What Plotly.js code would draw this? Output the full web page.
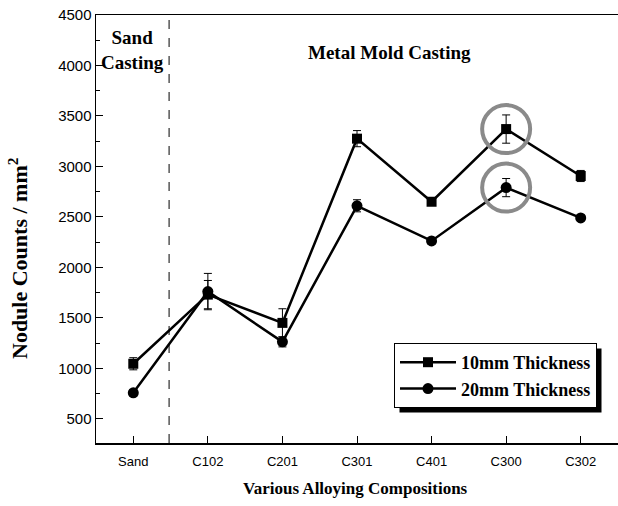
<!DOCTYPE html>
<html>
<head>
<meta charset="utf-8">
<script src="https://cdn.plot.ly/plotly-3.0.1.min.js"></script>
<style>html,body{margin:0;padding:0;background:#fff;}#chart{width:618px;height:506px;}</style>
</head>
<body>
<div id="chart"></div>
<script>
const categories = ["Sand", "C102", "C201", "C301", "C401", "C300", "C302"];
const thick10 = [1045, 1730, 1450, 3275, 2650, 3370, 2905];
const thick10Err = [60, 140, 140, 80, 30, 140, 55];
const thick20 = [757, 1760, 1262, 2610, 2262, 2790, 2490];
const thick20Err = [30, 180, 50, 60, 30, 90, 25];
const yTicks = [500, 1000, 1500, 2000, 2500, 3000, 3500, 4000, 4500];
const seriesNames = ["10mm Thickness", "20mm Thickness"];
const highlighted = "C300";

const serif = "Liberation Serif, Times New Roman, serif";
const sans = "Liberation Sans, Arial, sans-serif";
const xIdx = categories.map((c, i) => i);

const traces = [
  {
    x: xIdx, y: thick10, name: seriesNames[0], type: "scatter", mode: "lines+markers",
    line: {color: "#000", width: 2.5},
    marker: {symbol: "square", size: 10, color: "#000"},
    error_y: {type: "data", array: thick10Err, visible: true, color: "#000", thickness: 1, width: 4}
  },
  {
    x: xIdx, y: thick20, name: seriesNames[1], type: "scatter", mode: "lines+markers",
    line: {color: "#000", width: 2.5},
    marker: {symbol: "circle", size: 11, color: "#000"},
    error_y: {type: "data", array: thick20Err, visible: true, color: "#000", thickness: 1, width: 4}
  }
];

const hi = categories.indexOf(highlighted);
const shapes = [
  {type: "line", xref: "x", yref: "paper", x0: 0.48, x1: 0.48, y0: 0, y1: 1,
   line: {color: "#000", width: 1, dash: "dash"}},
  {type: "rect", xref: "paper", yref: "paper", x0: 0.580, x1: 0.973, y0: 0.09, y1: 0.222,
   fillcolor: "#000", line: {width: 0}, layer: "below"},
  {type: "circle", xref: "x", yref: "y", xsizemode: "pixel", ysizemode: "pixel",
   xanchor: hi, yanchor: thick10[hi], x0: -24, x1: 24, y0: -24, y1: 24,
   line: {color: "#8a8a8a", width: 4}},
  {type: "circle", xref: "x", yref: "y", xsizemode: "pixel", ysizemode: "pixel",
   xanchor: hi, yanchor: thick20[hi], x0: -24, x1: 24, y0: -24, y1: 24,
   line: {color: "#8a8a8a", width: 4}}
];

const layout = {
  width: 618, height: 506,
  margin: {l: 96, r: 0, t: 15, b: 63},
  paper_bgcolor: "#fff", plot_bgcolor: "#fff",
  showlegend: true,
  legend: {
    x: (394 - 96) / 522, y: (443 - 343) / 428, xanchor: "left", yanchor: "top",
    bgcolor: "#fff", bordercolor: "#000", borderwidth: 1,
    font: {family: serif, size: 18, color: "#000", weight: "bold"},
    tracegroupgap: 0, itemwidth: 56
  },
  xaxis: {
    range: [-0.5, 6.5], tickmode: "array", tickvals: xIdx, ticktext: categories,
    ticks: "inside", ticklen: 7, tickcolor: "#000", tickwidth: 1,
    showline: true, linecolor: "#000", linewidth: 1.5, mirror: true,
    showgrid: false, zeroline: false, ticklabelstandoff: 6,
    tickfont: {family: sans, size: 13, color: "#000"}
  },
  yaxis: {
    range: [260, 4500], tickmode: "array", tickvals: yTicks,
    ticks: "inside", ticklen: 7, tickcolor: "#000", tickwidth: 1,
    minor: {dtick: 250, tick0: 250, ticks: "inside", ticklen: 4, tickcolor: "#000", showgrid: false},
    showline: true, linecolor: "#000", linewidth: 1.5,
    showgrid: false, zeroline: false,
    tickfont: {family: sans, size: 15, color: "#000"}
  },
  shapes: shapes,
  annotations: [
    {text: "Sand<br>Casting", xref: "paper", yref: "paper", x: (132 - 96) / 522, y: (443 - 50) / 428,
     xanchor: "center", yanchor: "middle", showarrow: false, align: "center",
     font: {family: serif, size: 19, color: "#000", weight: "bold"}},
    {text: "Metal Mold Casting", xref: "paper", yref: "paper", x: (389 - 96) / 522, y: (443 - 53) / 428,
     xanchor: "center", yanchor: "middle", showarrow: false,
     font: {family: serif, size: 19, color: "#000", weight: "bold"}},
    {text: "Nodule Counts / mm<sup>2</sup>", xref: "paper", yref: "paper", x: (18 - 96) / 522, y: (443 - 258) / 428,
     xanchor: "center", yanchor: "middle", showarrow: false, textangle: -90,
     font: {family: serif, size: 22, color: "#000", weight: "bold"}},
    {text: "Various Alloying Compositions", xref: "paper", yref: "paper", x: (355 - 96) / 522, y: (443 - 488) / 428,
     xanchor: "center", yanchor: "middle", showarrow: false,
     font: {family: serif, size: 17, color: "#000", weight: "bold"}}
  ]
};

const gd = document.getElementById("chart");
Plotly.newPlot(gd, traces, layout, {displayModeBar: false, staticPlot: true}).then(() => {
  // align the legend's drop shadow with the rendered legend box
  const bg = gd.querySelector(".legend .bg");
  if (!bg) return;
  const r = bg.getBoundingClientRect();
  const c = gd.getBoundingClientRect();
  const fs = gd._fullLayout._size;
  const off = 5;
  const px = v => (v - fs.l) / fs.w;
  const py = v => 1 - (v - fs.t) / fs.h;
  return Plotly.relayout(gd, {
    "shapes[1].x0": px(r.left - c.left + off),
    "shapes[1].x1": px(r.right - c.left + off),
    "shapes[1].y0": py(r.bottom - c.top + off),
    "shapes[1].y1": py(r.top - c.top + off)
  });
});
</script>
</body>
</html>
